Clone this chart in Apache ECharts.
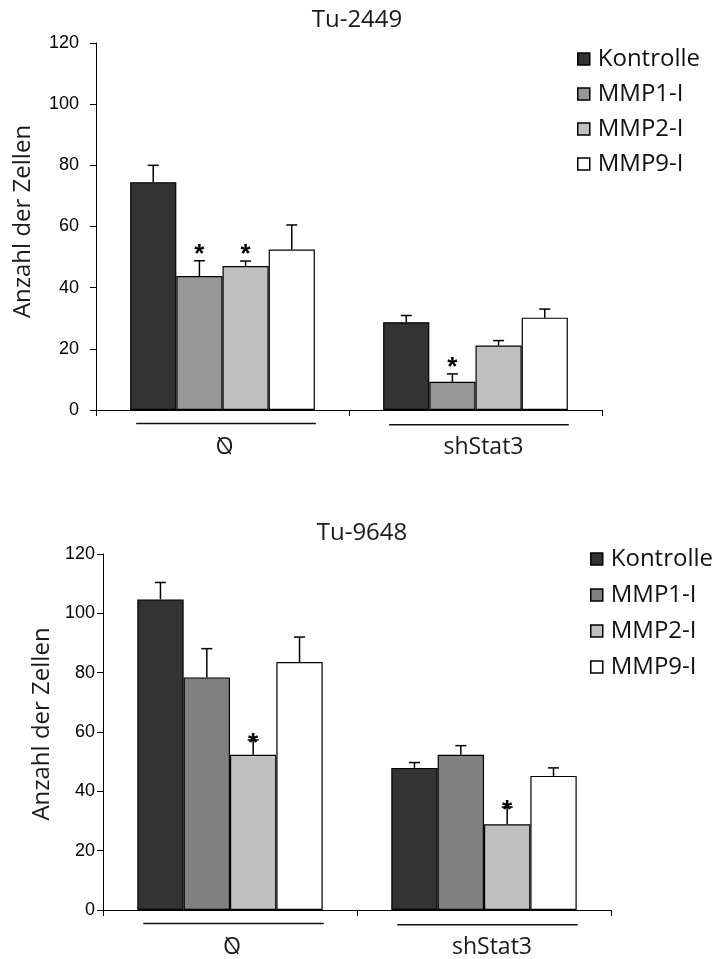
<!DOCTYPE html>
<html><head><meta charset="utf-8">
<script src="https://cdn.jsdelivr.net/npm/echarts@6/dist/echarts.min.js"></script>
<style>html,body{margin:0;padding:0;background:#fff}#c{width:715px;height:959px}</style>
</head><body><div id="c"></div>
<script>
// ---------- data ----------
const categories = ['Ø', 'shStat3'];
const seriesNames = ['Kontrolle', 'MMP1-I', 'MMP2-I', 'MMP9-I'];
const yMin = 0, yMax = 120, yInterval = 20;

const tu2449Title = 'Tu-2449';
const tu2449Kontrolle = [74.5, 28.7];
const tu2449MMP1 = [43.8, 9.2];
const tu2449MMP2 = [47.1, 21.1];
const tu2449MMP9 = [52.5, 30.2];
const tu2449KontrolleErr = [5.5, 2.2];
const tu2449MMP1Err = [5.0, 2.6];
const tu2449MMP2Err = [1.6, 1.6];
const tu2449MMP9Err = [8.0, 2.8];
const tu2449Signif = [[0, 1], [0, 2], [1, 1]]; // [category, series]

const tu9648Title = 'Tu-9648';
const tu9648Kontrolle = [104.7, 47.9];
const tu9648MMP1 = [78.4, 52.3];
const tu9648MMP2 = [52.3, 28.9];
const tu9648MMP9 = [83.6, 45.2];
const tu9648KontrolleErr = [5.7, 1.8];
const tu9648MMP1Err = [9.7, 3.1];
const tu9648MMP2Err = [5.0, 5.8];
const tu9648MMP9Err = [8.4, 2.7];
const tu9648Signif = [[0, 2], [1, 2]];

// ---------- styles ----------
const TXT = 'Open Sans';
const NUM = 'Liberation Sans';
const BAR_GAP = 0.27;
const colorsTop = ['#333333', '#979797', '#c0c0c0', '#ffffff'];
const colorsBottom = ['#333333', '#808080', '#c0c0c0', '#ffffff'];

const panels = [
  {
    title: tu2449Title,
    values: [tu2449Kontrolle, tu2449MMP1, tu2449MMP2, tu2449MMP9],
    errs: [tu2449KontrolleErr, tu2449MMP1Err, tu2449MMP2Err, tu2449MMP9Err],
    signif: tu2449Signif,
    colors: colorsTop,
    grid: {left: 96, right: 113, top: 43, bottom: 549},
    labelMargin: 17, nameGap: 61, namePad: 10,
    titleX: 357, titleY: 8,
    legend: {left: 577, top: 47, itemGap: 11},
    starOffset: 6,
    catLabelDx: [2, 8]
  },
  {
    title: tu9648Title,
    values: [tu9648Kontrolle, tu9648MMP1, tu9648MMP2, tu9648MMP9],
    errs: [tu9648KontrolleErr, tu9648MMP1Err, tu9648MMP2Err, tu9648MMP9Err],
    signif: tu9648Signif,
    colors: colorsBottom,
    grid: {left: 103, right: 104, top: 554, bottom: 49},
    labelMargin: 8, nameGap: 47, namePad: 16,
    titleX: 362, titleY: 521,
    legend: {left: 590, top: 547, itemGap: 12},
    starOffset: -4,
    catLabelDx: [2, 8]
  }
];

function barX(api, cat, si, n) {
  const c = api.coord([cat, 0]);
  const band = api.size([1, 0])[0];
  const w = band * (1 - BAR_GAP) / n;
  return {x: c[0] + (si - (n - 1) / 2) * w, w: w, band: band, y0: c[1], cx: c[0]};
}

const option = {
  animation: false,
  backgroundColor: '#fff',
  title: [], legend: [], grid: [], xAxis: [], yAxis: [], series: []
};

panels.forEach((p, g) => {
  option.title.push({
    text: p.title, left: p.titleX, top: p.titleY, textAlign: 'center', padding: 0,
    textStyle: {fontFamily: TXT, fontSize: 24, fontWeight: 'normal', color: '#1a1a1a'}
  });
  option.legend.push({
    orient: 'vertical', left: p.legend.left, top: p.legend.top, padding: 0,
    itemGap: p.legend.itemGap, itemWidth: 12, itemHeight: 12, icon: 'rect',
    selectedMode: false,
    textStyle: {fontFamily: TXT, fontSize: 24, color: '#111', lineHeight: 24, padding: [0, 0, 0, 3]},
    data: seriesNames.map((nm, i) => ({
      name: nm,
      itemStyle: {color: p.colors[i], borderColor: '#000', borderWidth: 1.5}
    }))
  });
  option.grid.push(Object.assign({containLabel: false, outerBoundsMode: 'none'}, p.grid));
  option.xAxis.push({
    type: 'category', gridIndex: g, data: categories,
    axisLine: {lineStyle: {color: '#000', width: 1}},
    axisTick: {show: true, length: 6, lineStyle: {color: '#000'}},
    axisLabel: {show: false},
    splitLine: {show: false}
  });
  option.yAxis.push({
    type: 'value', gridIndex: g, min: yMin, max: yMax, interval: yInterval,
    name: 'Anzahl der Zellen', nameLocation: 'middle', nameRotate: 90, nameGap: p.nameGap,
    nameTextStyle: {fontFamily: TXT, fontSize: 24, color: '#1a1a1a', padding: [0, 0, 0, p.namePad]},
    axisLine: {show: true, lineStyle: {color: '#000', width: 1}},
    axisTick: {show: true, length: 6, lineStyle: {color: '#000'}},
    axisLabel: {fontFamily: NUM, fontSize: 18, color: '#000', margin: p.labelMargin},
    splitLine: {show: false}
  });
  const n = seriesNames.length;
  seriesNames.forEach((nm, i) => {
    option.series.push({
      type: 'bar', name: nm, xAxisIndex: g, yAxisIndex: g,
      data: p.values[i],
      barGap: '0%', barCategoryGap: (BAR_GAP * 100) + '%',
      itemStyle: {color: p.colors[i], borderColor: '#000', borderWidth: 1.2},
      emphasis: {disabled: true}
    });
  });
  // error bars
  const errData = [];
  seriesNames.forEach((nm, i) => {
    categories.forEach((c, ci) => {
      errData.push([ci, p.values[i][ci], p.errs[i][ci], i]);
    });
  });
  option.series.push({
    type: 'custom', name: 'err' + g, xAxisIndex: g, yAxisIndex: g,
    data: errData, encode: {x: 0, y: 1}, z: 3, silent: true,
    renderItem: function (params, api) {
      const cat = api.value(0), v = api.value(1), e = api.value(2), si = api.value(3);
      const b = barX(api, cat, si, n);
      const yb = api.coord([cat, v])[1];
      const yt = api.coord([cat, v + e])[1];
      const cap = 11;
      const st = {stroke: '#000', lineWidth: 1.5};
      return {type: 'group', children: [
        {type: 'line', shape: {x1: b.x, y1: yb, x2: b.x, y2: yt}, style: st},
        {type: 'line', shape: {x1: b.x - cap / 2, y1: yt, x2: b.x + cap / 2, y2: yt}, style: st}
      ]};
    }
  });
  // significance asterisks
  const starData = p.signif.map(s => [s[0], p.values[s[1]][s[0]] + p.errs[s[1]][s[0]], s[1]]);
  option.series.push({
    type: 'custom', name: 'sig' + g, xAxisIndex: g, yAxisIndex: g,
    data: starData, encode: {x: 0, y: 1}, z: 4, silent: true,
    renderItem: function (params, api) {
      const cat = api.value(0), top = api.value(1), si = api.value(2);
      const b = barX(api, cat, si, n);
      const yt = api.coord([cat, top])[1];
      return {type: 'text', x: b.x, y: yt - p.starOffset,
        style: {text: '*', fontFamily: NUM, fontWeight: 'bold', fontSize: 26, fill: '#000',
          textAlign: 'center', textVerticalAlign: 'middle'}, z2: 10};
    }
  });
  // group underline + category labels
  option.series.push({
    type: 'custom', name: 'cat' + g, xAxisIndex: g, yAxisIndex: g,
    data: categories.map((c, ci) => [ci, 0]), encode: {x: 0, y: 1}, silent: true,
    renderItem: function (params, api) {
      const cat = api.value(0);
      const first = barX(api, cat, 0, n), last = barX(api, cat, n - 1, n);
      const x1 = first.x - first.w / 2 + 6, x2 = last.x + last.w / 2 + 1;
      const y = first.y0 + 13.5 + cat * 1.2;
      const txt = categories[cat];
      const mirror = txt === 'Ø';
      return {type: 'group', children: [
        {type: 'line', shape: {x1: x1, y1: y, x2: x2, y2: y}, style: {stroke: '#111', lineWidth: 1.5}},
        {type: 'text', x: first.cx + p.catLabelDx[cat], y: first.y0 + 37, scaleX: mirror ? -1 : 1,
          style: {text: txt, fontFamily: TXT, fontSize: 23, fill: '#1a1a1a',
            textAlign: 'center', textVerticalAlign: 'middle'}}
      ]};
    }
  });
});

const chart = echarts.init(document.getElementById('c'), null, {renderer: 'canvas'});
chart.setOption(option);
</script>
</body></html>
